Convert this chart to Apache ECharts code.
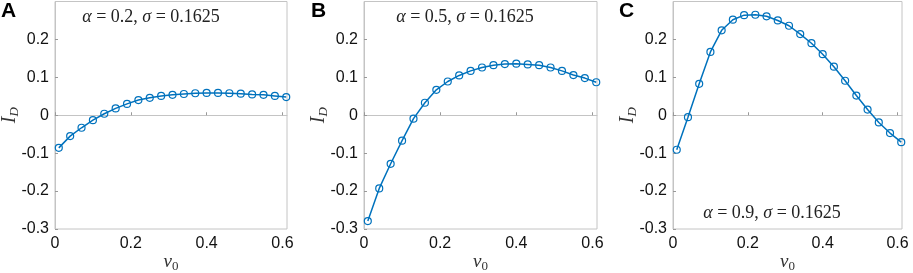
<!DOCTYPE html>
<html>
<head>
<meta charset="utf-8">
<script src="https://cdn.jsdelivr.net/npm/echarts@6/dist/echarts.min.js"></script>
<style>
  html, body { margin: 0; padding: 0; background: #fff; }
  #main { width: 913px; height: 273px; }
</style>
</head>
<body>
<div id="main"></div>
<script>
// v0 sample points (same for the three panels)
const v0 = [0.01, 0.04, 0.07, 0.10, 0.13, 0.16, 0.19, 0.22, 0.25, 0.28, 0.31,
  0.34, 0.37, 0.40, 0.43, 0.46, 0.49, 0.52, 0.55, 0.58, 0.61]

// I_D
const idA = [-0.086, -0.055, -0.033, -0.013, 0.004, 0.018, 0.030, 0.040, 0.046, 0.051, 0.054,
  0.056, 0.058, 0.059, 0.059, 0.058, 0.057, 0.055, 0.054, 0.051, 0.048]
const idB = [-0.279, -0.193, -0.128, -0.067, -0.009, 0.033, 0.067, 0.089, 0.105, 0.117, 0.126,
  0.132, 0.135, 0.136, 0.134, 0.132, 0.126, 0.117, 0.106, 0.098, 0.087]
const idC = [-0.091, -0.005, 0.083, 0.167, 0.224, 0.252, 0.264, 0.265, 0.261, 0.250, 0.236,
  0.214, 0.190, 0.161, 0.128, 0.091, 0.052, 0.015, -0.019, -0.047, -0.071]

const panelLetters = ['A', 'B', 'C']
const alphas = ['0.2', '0.5', '0.9']
const sigma = '0.1625'

const chart = echarts.init(document.getElementById('main'))

const blue = '#0072BD'
const boxGray = '#c4c4c4'
const sans = 'Liberation Sans'
const serif = 'Liberation Serif'

// plot boxes (pixels)
const boxes = [
  { left: 55, width: 232 },
  { left: 364, width: 233 },
  { left: 673, width: 229 },
]
const gridTop = 1.5
const gridBottom = 44

const grids = boxes.map(b => ({
  left: b.left, width: b.width, top: gridTop, bottom: gridBottom,
  outerBoundsMode: 'none', containLabel: false,
  show: true, borderColor: boxGray, borderWidth: 1, backgroundColor: '#fff'
}))

const xAxes = boxes.map((b, i) => ({
  type: 'value', gridIndex: i, min: 0, max: 0.612, interval: 0.2,
  name: '{v|v}{s|0}', nameLocation: 'middle', nameGap: 22, nameMoveOverlap: false,
  nameTextStyle: {
    rich: {
      v: { fontFamily: serif, fontStyle: 'italic', fontSize: 19, color: '#333' },
      s: { fontFamily: serif, fontSize: 13, color: '#333', verticalAlign: 'bottom', padding: [9, 0, 0, 0] }
    }
  },
  axisLine: { show: true, lineStyle: { color: boxGray } },
  axisTick: { show: true, inside: true, length: 3, lineStyle: { color: '#999' } },
  axisLabel: { showMaxLabel: false, color: '#111', fontFamily: sans, fontSize: 16, margin: 7,
    formatter: v => v === 0 ? '0' : String(+v.toFixed(1)) },
  splitLine: { show: false }
}))

const yAxes = boxes.map((b, i) => ({
  type: 'value', gridIndex: i, min: -0.3, max: 0.3, interval: 0.1,
  name: '{v|I}{s|D}', nameLocation: 'middle', nameGap: 34, nameRotate: 90, nameMoveOverlap: false,
  nameTextStyle: {
    rich: {
      v: { fontFamily: serif, fontStyle: 'italic', fontSize: 20, color: '#333' },
      s: { fontFamily: serif, fontStyle: 'italic', fontSize: 13, color: '#333', padding: [9, 0, 0, 0] }
    }
  },
  axisLine: { show: true, lineStyle: { color: boxGray } },
  axisTick: { show: true, inside: true, length: 3, lineStyle: { color: '#999' } },
  axisLabel: { showMaxLabel: false, color: '#111', fontFamily: sans, fontSize: 16, margin: 6,
    formatter: v => Math.abs(v) < 1e-9 ? '0' : String(+v.toFixed(1)) },
  splitLine: { show: false }
}))

const series = [idA, idB, idC].map((ys, i) => ({
  type: 'line', xAxisIndex: i, yAxisIndex: i,
  data: v0.map((x, k) => [x, ys[k]]),
  symbol: 'circle', symbolSize: 7, showSymbol: true,
  lineStyle: { color: blue, width: 1.5 },
  itemStyle: { color: 'rgba(0,0,0,0)', borderColor: blue, borderWidth: 1.2 },
  emphasis: { disabled: true },
  animation: false
}))

// annotation positions (centre x, centre y)
const notePos = [[151, 17], [465, 17], [772, 213]]
const letterPos = [[1, 1], [311, 1], [619, 1]]

const graphics = []
panelLetters.forEach((t, i) => {
  graphics.push({
    type: 'text', left: letterPos[i][0], top: letterPos[i][1],
    style: { text: t, font: 'bold 21px ' + sans, fill: '#000' }
  })
  graphics.push({
    type: 'text', x: notePos[i][0], y: notePos[i][1],
    style: {
      text: '{g|α} = ' + alphas[i] + ', {g|σ} = ' + sigma,
      align: 'center', verticalAlign: 'middle',
      font: '18px ' + serif, fill: '#222',
      rich: { g: { fontFamily: serif, fontStyle: 'italic', fontSize: 18, fill: '#222' } }
    }
  })
})

chart.setOption({
  animation: false,
  grid: grids,
  xAxis: xAxes,
  yAxis: yAxes,
  series: series,
  graphic: graphics
})
</script>
</body>
</html>
